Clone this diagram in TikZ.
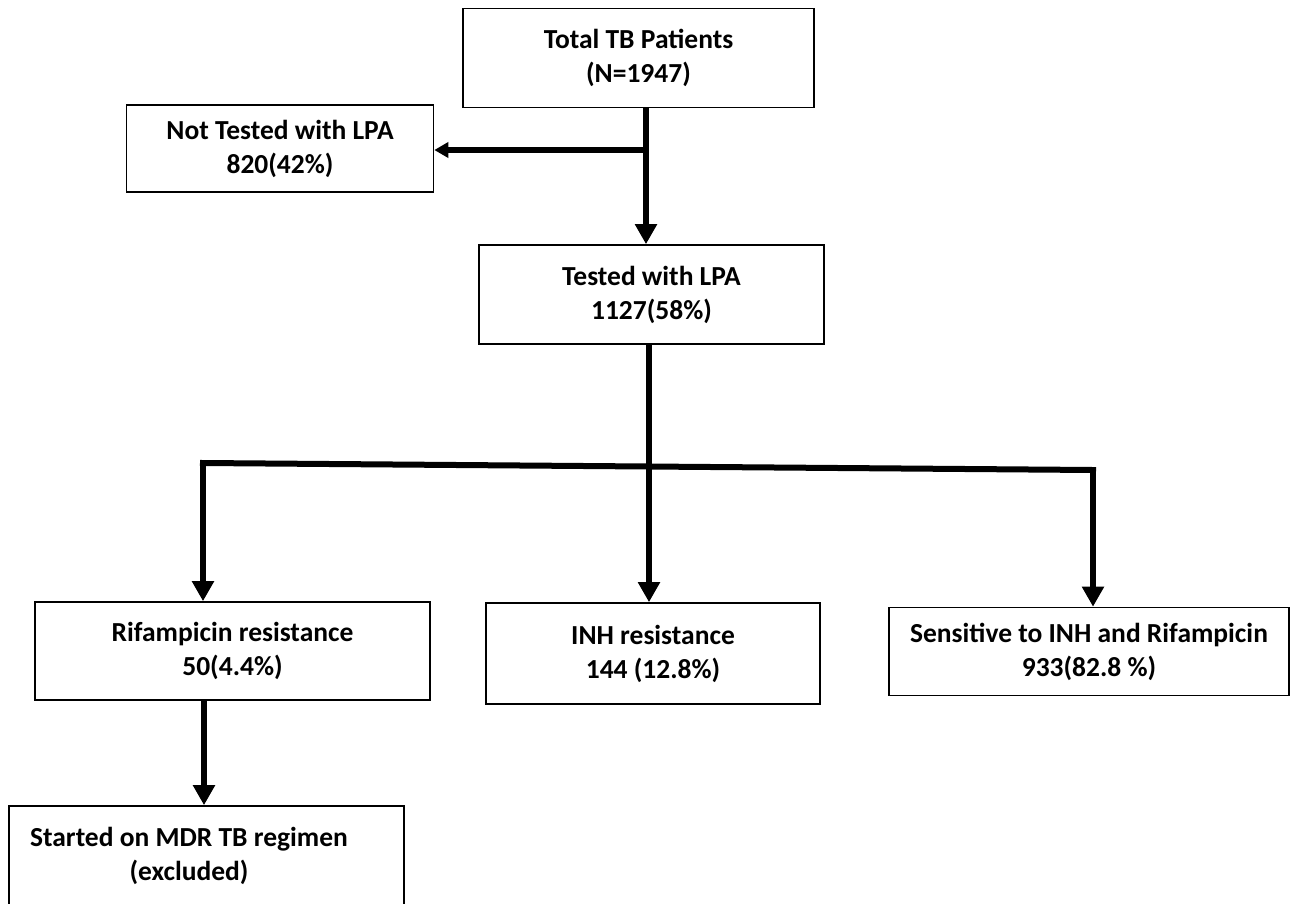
\documentclass[tikz,border=0pt]{standalone}
\usepackage{fontspec}
\setmainfont{Carlito}
\usetikzlibrary{arrows.meta}
\begin{document}
\begin{tikzpicture}[x=1pt,y=-1pt,
  box/.style={draw=black, line width=1.6pt, fill=white, inner sep=0pt, align=center,
    font=\fontsize{27.5}{34}\selectfont\bfseries},
  txt/.style={inner sep=0pt, align=center, font=\fontsize{27.5}{34}\selectfont\bfseries},
  arr/.style={line width=6pt, -{Triangle[width=21pt,length=20pt]}},
  arrs/.style={line width=5.5pt, -{Triangle[width=15pt,length=14pt]}},
  ln/.style={line width=6pt}]
\useasboundingbox (0,0) rectangle (1291,903);
\clip (0,0) rectangle (1291,903);
\fill[white] (0,0) rectangle (1291,903);
% boxes
\node[box, minimum width=351pt, minimum height=99pt] (total) at (638.5,58) {Total TB Patients\\(N=1947)};
\node[box, minimum width=307pt, minimum height=87pt] (nottested) at (280,148.5) {Not Tested with LPA\\820(42\%)};
\node[box, minimum width=345pt, minimum height=99pt] (tested) at (651.5,294.5) {Tested with LPA\\1127(58\%)};
\node[box, minimum width=395pt, minimum height=98pt] (rif) at (232.5,651) {Rifampicin resistance\\50(4.4\%)};
\node[box, minimum width=334pt, minimum height=101pt] (inh) at (653,653.5) {INH resistance\\144 (12.8\%)};
\node[box, minimum width=400pt, minimum height=88pt] (sens) at (1089,651.5) {Sensitive to INH and Rifampicin\\933(82.8 \%)};
\node[box, minimum width=395pt, minimum height=100pt] (mdr) at (206.5,856) {};
\node[txt] (mdrtext) at (189,856) {Started on MDR TB regimen\\(excluded)};
% connectors
\coordinate (split1) at (646,150);
\draw[arr] (total.south -| split1) -- (tested.north -| split1);
\draw[arrs] (split1) -- (nottested.east |- split1);
\coordinate (hl) at (203,463);
\coordinate (hr) at (1093,470);
\coordinate (hm) at (649,466.5);
\draw[ln] (tested.south -| hm) -- (hm);
\draw[ln, line cap=rect] (hl) -- (hr);
\draw[arr] (hl) -- (rif.north -| hl);
\draw[arr] (hm) -- (inh.north -| hm);
\draw[arr] (hr) -- (sens.north -| hr);
\draw[arr] (rif.south -| 204,0) -- (mdr.north -| 204,0);
\end{tikzpicture}
\end{document}
